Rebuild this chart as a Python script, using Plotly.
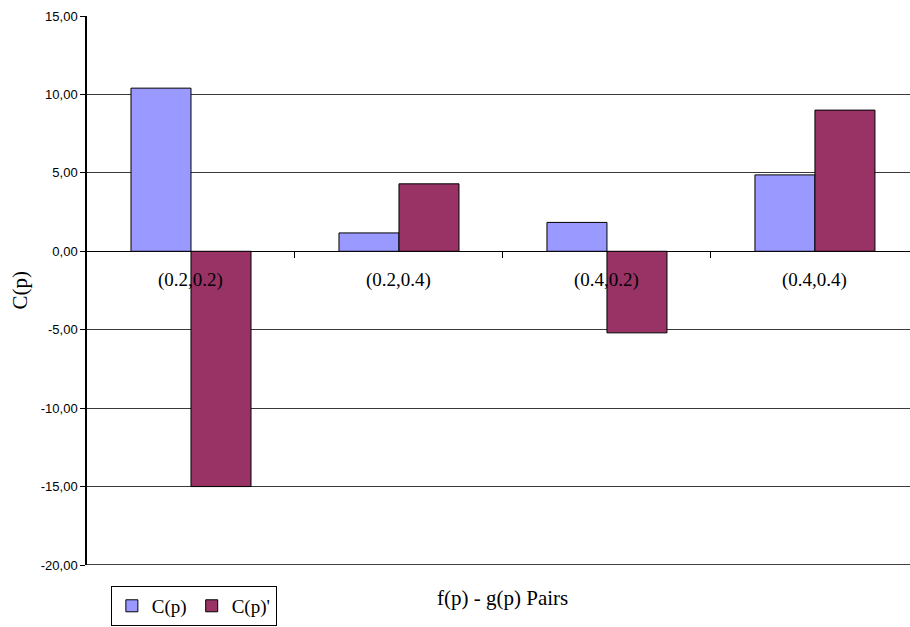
import plotly.graph_objects as go

# Category pairs and the two series
pairs = ["(0.2,0.2)", "(0.2,0.4)", "(0.4,0.2)", "(0.4,0.4)"]
c_p = [10.4, 1.17, 1.84, 4.87]
c_p_prime = [-15.0, 4.3, -5.2, 9.0]

# Value axis ticks (comma decimal, plain hyphen for negatives)
y_ticks = [-20, -15, -10, -5, 0, 5, 10, 15]
y_tick_text = [f"{v:.2f}".replace(".", ",") for v in y_ticks]

serif = "Liberation Serif, Times New Roman, serif"
sans = "Liberation Sans, Arial, sans-serif"

x_pos = list(range(len(pairs)))
y_min, y_max = -20, 15

fig = go.Figure()
fig.add_trace(go.Bar(
    x=x_pos, y=c_p, name="C(p)",
    marker=dict(color="#9999FF", line=dict(color="#000000", width=1)),
))
fig.add_trace(go.Bar(
    x=x_pos, y=c_p_prime, name="C(p)'",
    marker=dict(color="#993366", line=dict(color="#000000", width=1)),
))

# Category labels sit just under the zero line
annotations = []
for xi, label in zip(x_pos, pairs):
    annotations.append(dict(
        x=xi, y=0, xref="x", yref="y", text=label, showarrow=False,
        yanchor="middle", yshift=-29, font=dict(family=serif, size=19, color="#000000"),
    ))

# Axis titles
annotations.append(dict(
    x=(x_pos[0] + x_pos[-1]) / 2, y=0, xref="x", yref="paper",
    text="f(p) - g(p) Pairs", showarrow=False, yanchor="middle", yshift=-33,
    font=dict(family=serif, size=21, color="#000000"),
))
annotations.append(dict(
    x=0, y=0.5, xref="paper", yref="paper", text="C(p)", showarrow=False,
    textangle=-90, xanchor="center", yanchor="middle", xshift=-68,
    font=dict(family=serif, size=21, color="#000000"),
))

fig.update_layout(
    width=910, height=627,
    margin=dict(l=87, r=0, t=15.5, b=62, autoexpand=False),
    plot_bgcolor="white", paper_bgcolor="white",
    barmode="group", bargap=0.423, bargroupgap=0,
    showlegend=True,
    legend=dict(
        orientation="h", x=0.029, y=-0.111, xanchor="left", yanchor="bottom",
        bordercolor="#000000", borderwidth=1, bgcolor="white",
        font=dict(family=serif, size=19, color="#000000"),
        itemwidth=30, tracegroupgap=0,
    ),
    annotations=annotations,
    shapes=[dict(
        type="line", xref="x domain", yref="y", x0=0, x1=1, y0=y_min, y1=y_min,
        line=dict(color="#000000", width=1.5),
    )],
)

# Category axis crosses at zero; ticks mark the boundaries between pairs
fig.update_xaxes(
    range=[-0.5, 3.457], anchor="free",
    position=(0 - y_min) / (y_max - y_min),
    tickvals=[0.5, 1.5, 2.5], ticks="outside", ticklen=6, tickcolor="#000000",
    showticklabels=False, showgrid=False, zeroline=False, showline=False,
)
fig.update_yaxes(
    range=[y_min, y_max], tickvals=y_ticks, ticktext=y_tick_text,
    ticks="outside", ticklen=5, tickcolor="#000000",
    tickfont=dict(family=sans, size=13, color="#000000"),
    showgrid=True, gridcolor="#3a3a3a", gridwidth=1,
    zeroline=True, zerolinecolor="#000000", zerolinewidth=1,
    showline=True, linecolor="#000000", linewidth=1.5,
)

fig.write_html("out.html")
